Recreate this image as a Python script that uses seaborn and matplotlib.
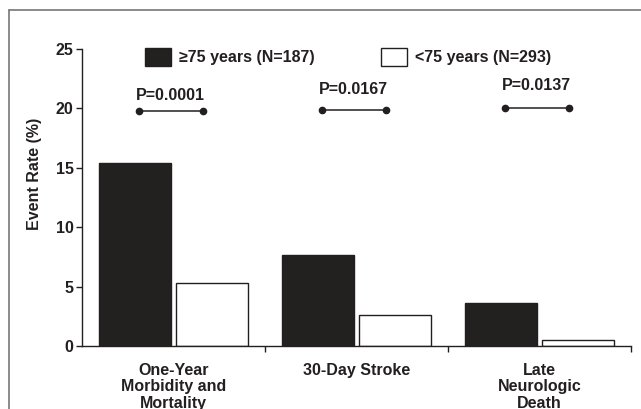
import seaborn as sns
import pandas as pd
import matplotlib.pyplot as plt
from matplotlib.lines import Line2D

categories = ["One-Year\nMorbidity and\nMortality", "30-Day Stroke", "Late\nNeurologic\nDeath"]
groups = ["\u226575 years (N=187)", "<75 years (N=293)"]
older = [15.4, 7.7, 3.6]
younger = [5.3, 2.6, 0.5]
p_labels = ["P=0.0001", "P=0.0167", "P=0.0137"]
p_line_y = [19.8, 19.9, 20.0]
p_text_y = [21.1, 21.6, 21.9]
y_ticks = [0, 5, 10, 15, 20, 25]

ink = '#231f20'

df = pd.DataFrame({
    'category': categories * 2,
    'group': [groups[0]] * 3 + [groups[1]] * 3,
    'rate': older + younger,
})

sns.set_style('ticks')
plt.rcParams['font.family'] = ['Liberation Sans', 'DejaVu Sans']
plt.rcParams['font.weight'] = 'bold'
plt.rcParams['text.color'] = ink
plt.rcParams['axes.labelcolor'] = ink
plt.rcParams['xtick.color'] = ink
plt.rcParams['ytick.color'] = ink

fig = plt.figure(figsize=(6.41, 4.09), dpi=100)
ax = fig.add_axes([82 / 641, 1 - 346 / 409, 549 / 641, 297 / 409])

sns.barplot(data=df, x='category', y='rate', hue='group', order=categories,
            hue_order=groups, palette={groups[0]: ink, groups[1]: 'white'},
            edgecolor=ink, linewidth=1.0, width=0.84, gap=0.07, ax=ax)

# p-value brackets
for i, (lab, ly, ty) in enumerate(zip(p_labels, p_line_y, p_text_y)):
    ax.plot([i - 0.19, i + 0.16], [ly, ly], '-o', color=ink, lw=1.1, ms=4.5)
    ax.text(i - 0.015, ty, lab, ha='center', va='center', fontsize=11.5,
            fontweight='bold')

ax.set_xlim(-0.5, 2.5)
ax.set_ylim(0, 25)
ax.set_yticks(y_ticks)
ax.set_xticks([0, 1, 2])
ax.set_xticklabels(categories, fontsize=11.5, fontweight='bold', linespacing=1.12)
ax.set_xticks([0.5, 1.5, 2.5], minor=True)
ax.tick_params(axis='x', which='major', length=0, pad=12)
ax.tick_params(axis='x', which='minor', length=4, width=1.0, direction='out')
ax.tick_params(axis='y', length=4, width=1.0, pad=2, labelsize=11.5)
for t in ax.get_yticklabels():
    t.set_fontweight('bold')
ax.set_xlabel('')
ax.set_ylabel('Event Rate (%)', fontsize=11.5, fontweight='bold')
ax.yaxis.label.set_va('center')
ax.yaxis.set_label_coords(-0.087, 0.58)

for side in ['top', 'right']:
    ax.spines[side].set_visible(False)
for side in ['left', 'bottom']:
    ax.spines[side].set_linewidth(1.0)
    ax.spines[side].set_color(ink)

handles, labels = ax.get_legend_handles_labels()
ax.legend(handles, labels, ncol=2, frameon=False, loc='center left',
          bbox_to_anchor=(145 / 641, 1 - 57 / 409), bbox_transform=fig.transFigure,
          borderpad=0, borderaxespad=0, handlelength=1.6, handleheight=1.4,
          handletextpad=0.5, columnspacing=4.2,
          prop={'size': 11.5, 'weight': 'bold'})

# scanned page frame
fig.add_artist(Line2D([9 / 641, 1], [1 - 9.5 / 409, 1 - 9.5 / 409], color='#777777', lw=1.2))
fig.add_artist(Line2D([9 / 641, 9 / 641], [0, 1 - 9.5 / 409], color='#777777', lw=1.2))

fig.savefig('out.png', dpi=100)
